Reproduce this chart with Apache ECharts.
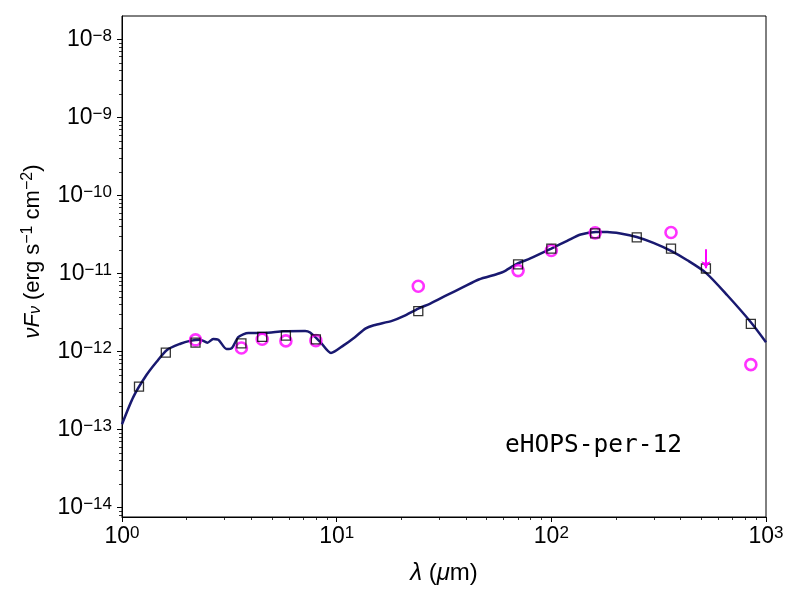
<!DOCTYPE html>
<html>
<head>
<meta charset="utf-8">
<script src="https://cdn.jsdelivr.net/npm/echarts@6/dist/echarts.min.js"></script>
<style>
html,body{margin:0;padding:0;background:#fff}
#sed{width:800px;height:600px}
</style>
</head>
<body>
<div id="sed"></div>
<script>
// model SED (wavelength in micron, nuFnu in erg/s/cm2)
var modelLam = [1.0, 1.13, 1.30, 1.45, 1.62, 1.87, 2.07, 2.31, 2.50, 2.66, 2.81, 3.07, 3.25, 3.49, 3.88, 4.56, 5.65, 7.13, 7.52, 8.38, 9.41,
    10.77, 12.2, 13.6, 14.9, 18.1, 20.5, 24.0, 27.3, 32.6, 39.0, 45.9, 55.6, 59.7, 68.8, 79.8, 100, 118.5, 137, 161, 182, 210, 250, 299,
    361, 430, 525, 660, 850, 1000];
var modelFlux = [1.17e-13, 2.63e-13, 5.0e-13, 7.4e-13, 1.05e-12, 1.26e-12, 1.37e-12, 1.42e-12, 1.30e-12, 1.45e-12, 1.42e-12, 1.08e-12, 1.11e-12,
    1.54e-12, 1.73e-12, 1.73e-12, 1.82e-12, 1.84e-12, 1.75e-12, 1.33e-12, 9.6e-13,
    1.2e-12, 1.54e-12, 1.97e-12, 2.17e-12, 2.47e-12, 2.84e-12, 3.56e-12, 4.12e-12, 5.27e-12, 6.73e-12, 8.38e-12, 9.8e-12, 1.05e-11,
    1.32e-11, 1.56e-11, 2.09e-11, 2.62e-11, 3.16e-11, 3.41e-11, 3.41e-11, 3.26e-11, 2.94e-11, 2.47e-11,
    1.95e-11, 1.48e-11, 1.02e-11, 5.27e-12, 2.38e-12, 1.32e-12];

// model fluxes at the photometry bands (open squares)
var bandLam  = [1.2, 1.6, 2.2, 3.6, 4.5, 5.8, 8.0, 24, 70, 100, 160, 250, 361, 525, 850];
var bandFlux = [3.56e-13, 9.7e-13, 1.30e-12, 1.27e-12, 1.54e-12, 1.60e-12, 1.43e-12, 3.29e-12, 1.31e-11, 2.09e-11, 3.26e-11, 2.9e-11, 2.09e-11, 1.16e-11, 2.26e-12];

// observed photometry (magenta circles)
var obsLam  = [2.2, 3.6, 4.5, 5.8, 8.0, 24, 70, 100, 160, 361, 850];
var obsFlux = [1.41e-12, 1.11e-12, 1.44e-12, 1.37e-12, 1.38e-12, 6.87e-12, 1.09e-11, 1.97e-11, 3.32e-11, 3.36e-11, 6.8e-13];

// upper limit
var limLam = [525];
var limTop = [2.04e-11];
var limTip = [1.17e-11];

var xMajor = [0, 1, 2, 3];
var yMajor = [-14, -13, -12, -11, -10, -9, -8];
var sourceName = 'eHOPS-per-12';

function lg(v){ return Math.log10(v); }
function pairs(a, b){ return a.map(function(v, i){ return [lg(v), lg(b[i])]; }); }
function minors(lo, hi){
    var out = [];
    for (var n = Math.floor(lo) - 1; n <= Math.ceil(hi); n++) {
        for (var k = 2; k <= 9; k++) {
            var v = n + Math.log10(k);
            if (v > lo && v < hi) out.push(v);
        }
    }
    return out;
}

var xMin = 0, xMax = 3, yMin = -14.12, yMax = -7.70;
var fnt = 'Liberation Sans, Arial, sans-serif';
var pow = function(v){ return '{b|10}{s|' + String(Math.round(v)).replace('-', '\u2212') + '}'; };
var powRich = {
    b: {fontSize: 23, fontFamily: fnt, color: '#000', lineHeight: 23, verticalAlign: 'bottom'},
    s: {fontSize: 17, fontFamily: fnt, color: '#000', lineHeight: 16, verticalAlign: 'top'}
};
function nameRich(sz){
    var sm = Math.round(sz * 0.72);
    return {
        n: {fontSize: sz, fontFamily: fnt, color: '#000', lineHeight: sz + 2, verticalAlign: 'bottom'},
        i: {fontSize: sz, fontFamily: fnt, fontStyle: 'italic', color: '#000', lineHeight: sz + 2, verticalAlign: 'bottom'},
        sup: {fontSize: sm, fontFamily: fnt, color: '#000', lineHeight: sm, verticalAlign: 'top'},
        sub: {fontSize: sm, fontFamily: fnt, fontStyle: 'italic', color: '#000', lineHeight: sm, verticalAlign: 'bottom'}
    };
}

var option = {
    animation: false,
    backgroundColor: '#fff',
    grid: {left: 122, right: 34, top: 16, bottom: 83, show: true, borderColor: '#000', borderWidth: 1},
    xAxis: [{
        type: 'value', min: xMin, max: xMax,
        axisLine: {show: true, lineStyle: {color: '#000', width: 1}},
        axisTick: {show: true, length: 5, customValues: xMajor, lineStyle: {color: '#000', width: 1}},
        axisLabel: {customValues: xMajor, margin: 8, formatter: pow, rich: powRich},
        splitLine: {show: false},
        name: '{i|\u03bb}{n| (}{i|\u03bc}{n|m)}',
        nameLocation: 'middle', nameGap: 42,
        nameTextStyle: {rich: nameRich(24)}
    }, {
        type: 'value', min: xMin, max: xMax, position: 'bottom',
        axisLine: {show: false},
        axisTick: {show: true, length: 3, customValues: minors(xMin, xMax), lineStyle: {color: '#000', width: 0.8}},
        axisLabel: {show: false},
        splitLine: {show: false}
    }],
    yAxis: [{
        type: 'value', min: yMin, max: yMax,
        axisLine: {show: true, lineStyle: {color: '#000', width: 1}},
        axisTick: {show: true, length: 5, customValues: yMajor, lineStyle: {color: '#000', width: 1}},
        axisLabel: {customValues: yMajor, margin: 10, formatter: pow, rich: powRich},
        splitLine: {show: false},
        name: '{i|\u03bdF}{sub|\u03bd}{n| (erg s}{sup|\u22121}{n| cm}{sup|\u22122}{n|)}',
        nameLocation: 'middle', nameGap: 78, nameRotate: 90,
        nameTextStyle: {rich: nameRich(22), padding: [0, 0, 0, 30]}
    }, {
        type: 'value', min: yMin, max: yMax, position: 'left',
        axisLine: {show: false},
        axisTick: {show: true, length: 3, customValues: minors(yMin, yMax), lineStyle: {color: '#000', width: 0.8}},
        axisLabel: {show: false},
        splitLine: {show: false}
    }],
    graphic: [{
        type: 'text', left: 505, top: 433, z: 10,
        style: {text: sourceName, fill: '#000', font: '24.5px "DejaVu Sans Mono", monospace'}
    }],
    series: [{
        name: 'model', type: 'line', data: pairs(modelLam, modelFlux),
        showSymbol: false, smooth: 0.25, z: 2,
        lineStyle: {color: '#191970', width: 2.5}
    }, {
        name: 'observed', type: 'scatter', data: pairs(obsLam, obsFlux),
        symbol: 'circle', symbolSize: 11, z: 3,
        itemStyle: {color: 'rgba(0,0,0,0)', borderColor: '#ff00ff', borderWidth: 2.6}
    }, {
        name: 'model bands', type: 'scatter', data: pairs(bandLam, bandFlux),
        symbol: 'rect', symbolSize: 9, z: 4,
        itemStyle: {color: 'rgba(0,0,0,0)', borderColor: '#000', borderWidth: 1.3}
    }, {
        name: 'upper limit', type: 'lines', coordinateSystem: 'cartesian2d', z: 5,
        symbol: ['none', 'arrow'], symbolSize: 7,
        lineStyle: {color: '#ff00ff', width: 2, opacity: 1},
        data: limLam.map(function(l, i){ return {coords: [[lg(l), lg(limTop[i])], [lg(l), lg(limTip[i])]]}; })
    }]
};

var chart = echarts.init(document.getElementById('sed'));
chart.setOption(option);
</script>
</body>
</html>
